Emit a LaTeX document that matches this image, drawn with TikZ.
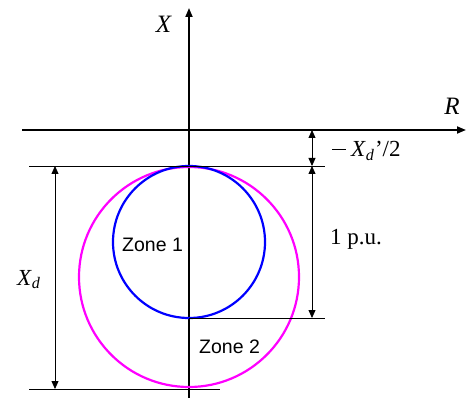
\documentclass[tikz,border=0pt]{standalone}
\usepackage{fontspec}
\setmainfont{Liberation Serif}
\setsansfont{Liberation Sans}
\usetikzlibrary{arrows.meta, positioning}

\definecolor{zonetwo}{RGB}{255,0,255}
\definecolor{zoneone}{RGB}{0,0,255}

\tikzset{
    axis/.style={line width=1.8pt, -{Triangle[length=9pt,width=7pt]}},
    dimline/.style={line width=0.8pt, {Triangle[length=8pt,width=7pt]}-{Triangle[length=8pt,width=7pt]}},
    extline/.style={line width=0.8pt},
    zone/.style={line width=2.2pt},
    lbl/.style={inner sep=0pt, font=\fontsize{23}{27}\selectfont},
    zonelbl/.style={inner sep=0pt, font=\sffamily\fontsize{19.5}{23}\selectfont}
}

\begin{document}
\begin{tikzpicture}[x=1pt, y=-1pt]
    \useasboundingbox (0,0) rectangle (466,398);

    % Axes
    \coordinate (xbot) at (189,398);
    \coordinate (xtop) at (189,8);
    \coordinate (rleft) at (22,130);
    \coordinate (rright) at (466,130);
    \draw[axis] (xbot) -- (xtop);
    \draw[axis] (rleft) -- (rright);
    \node[lbl, anchor=base, font=\fontsize{25}{29}\selectfont] (xlbl) at (164,33) {\textit{X}};
    \node[lbl, anchor=base, font=\fontsize{25}{29}\selectfont] (rlbl) at (452,115) {\textit{R}};

    % Mho circles
    \draw[zone, zonetwo] (189,277) circle (110);
    \draw[zone, zoneone] (189,242) circle (76);
    \node[zonelbl, anchor=base west] (z1) at (122,252) {Zone 1};
    \node[zonelbl, anchor=base west] (z2) at (199,353) {Zone 2};

    % Extension lines
    \draw[extline] (29,166) -- (325,166);
    \draw[extline] (189,318) -- (325,318);
    \draw[extline] (29,389) -- (220,389);

    % Right dimensions
    \coordinate (ra) at (312,130);
    \coordinate (rb) at (312,166);
    \coordinate (rc) at (312,318);
    \draw[dimline] (ra) -- (rb);
    \draw[dimline] (rb) -- (rc);
    \node[lbl, anchor=base west] (xdt) at (332,157) {\raisebox{6.5pt}{\rule{14pt}{1.1pt}}\kern5pt\textit{X}\textsubscript{\textit{d}}\kern0.5pt’/2};
    \node[lbl, anchor=base west] (pu) at (330,245) {1 p.u.};

    % Left dimension
    \coordinate (la) at (55,166);
    \coordinate (lb) at (55,389);
    \draw[dimline] (la) -- (lb);
    \node[lbl, anchor=base west] (xd) at (17,285) {\textit{X}\textsubscript{\textit{d}}};

\end{tikzpicture}
\end{document}
